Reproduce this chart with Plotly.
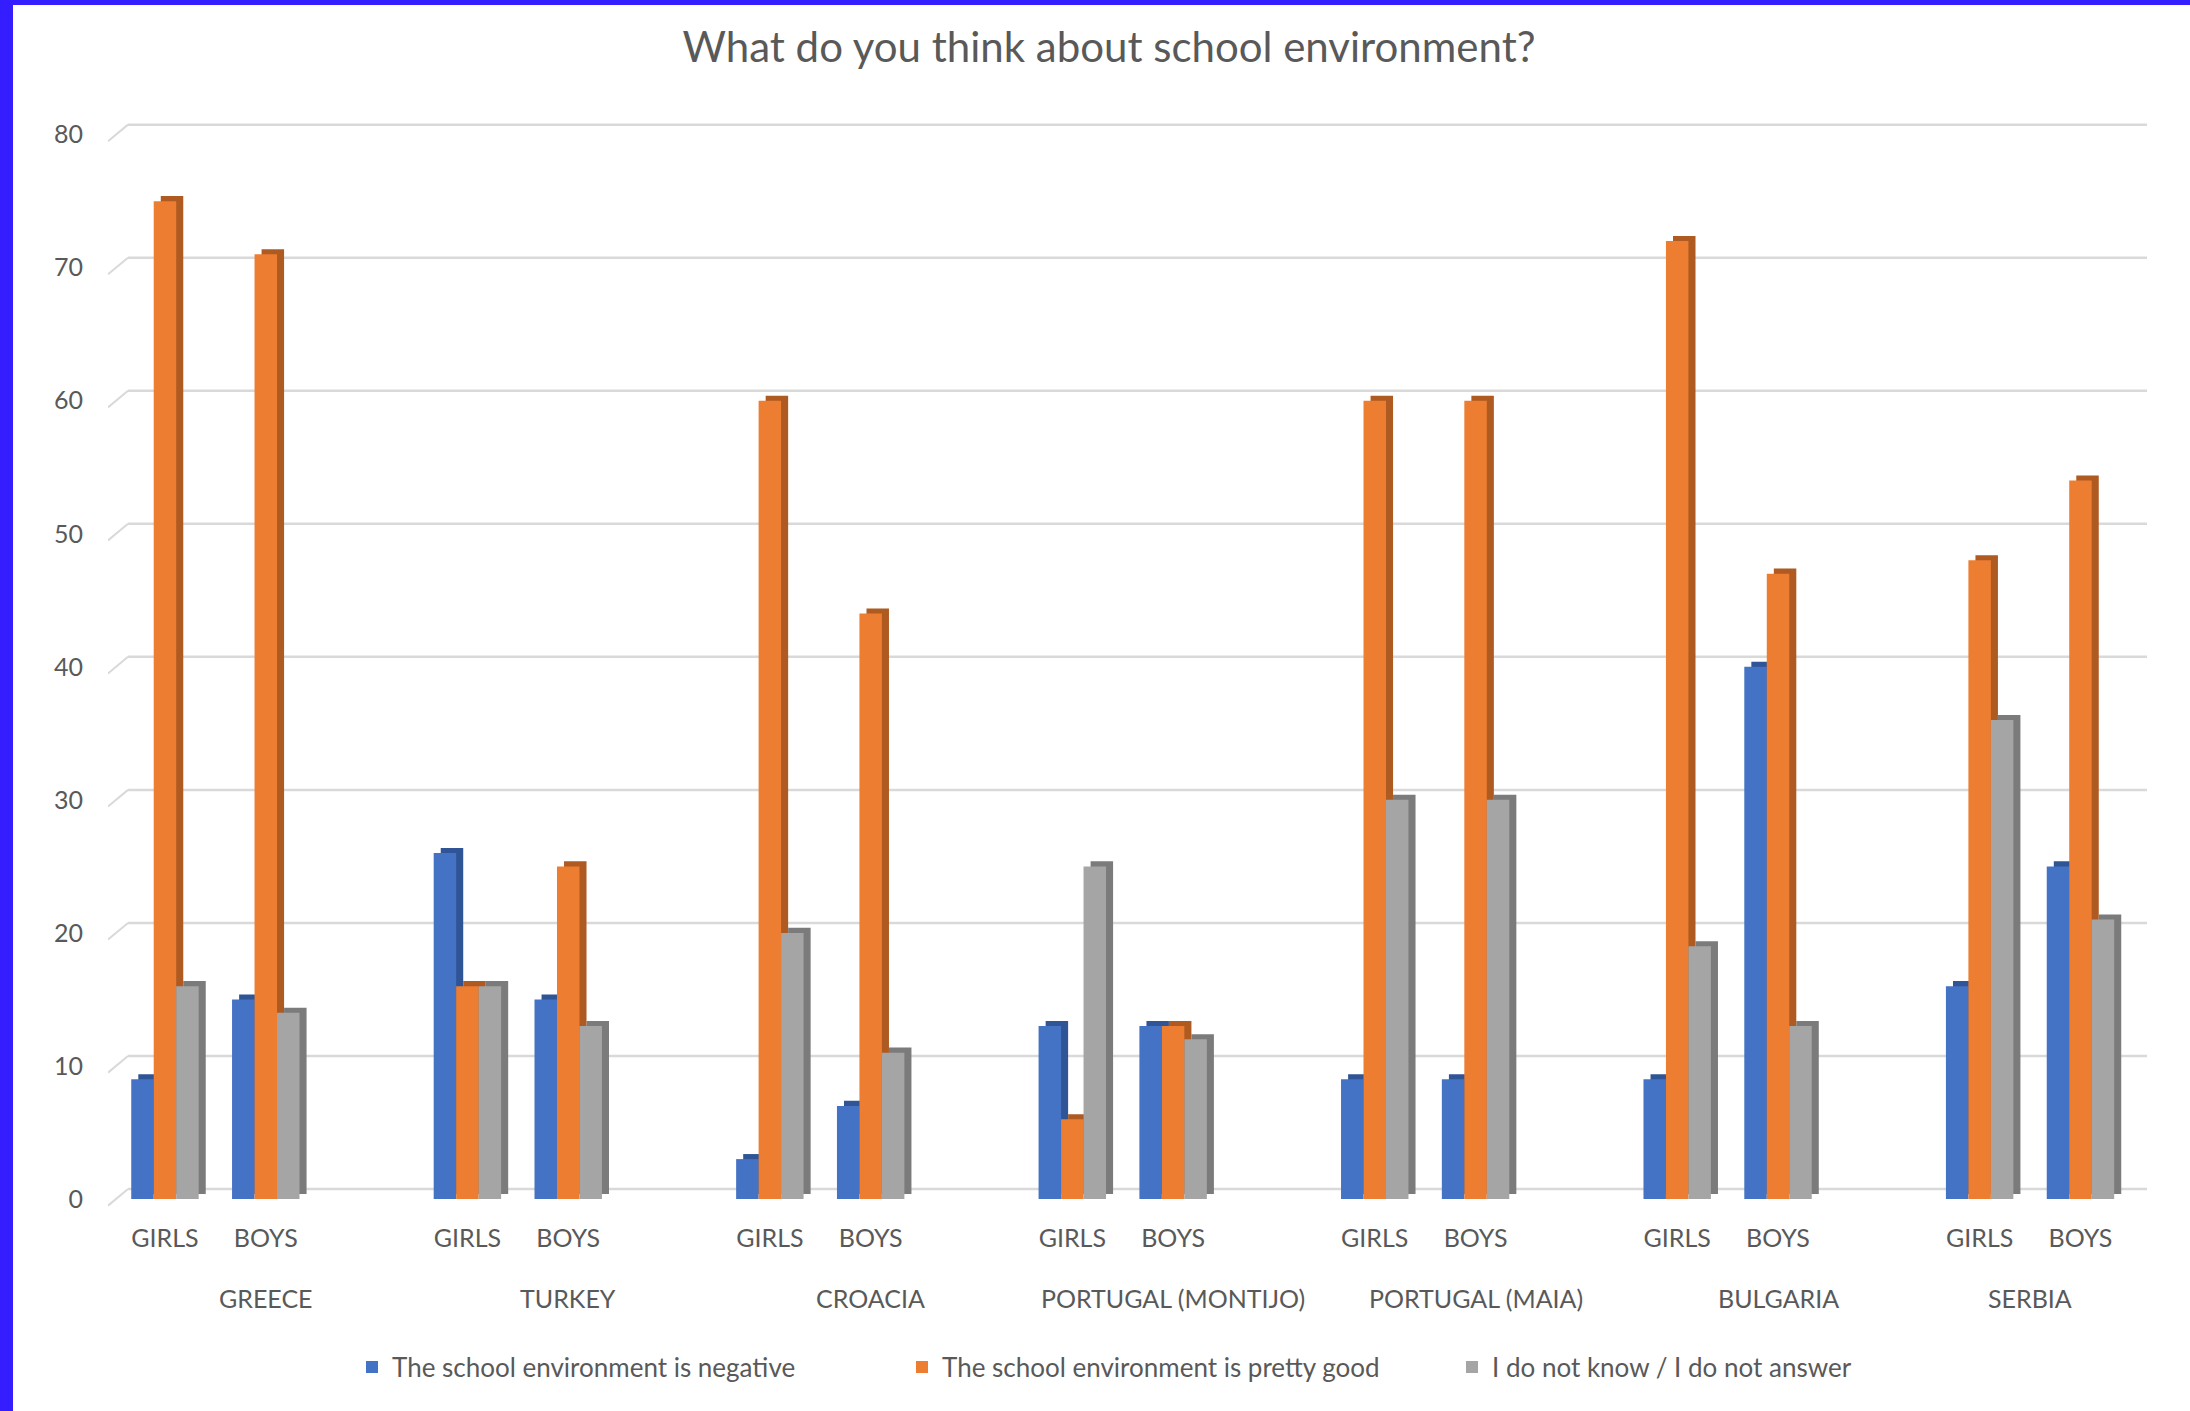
import plotly.graph_objects as go

# ---------------- data ----------------
countries = ["GREECE", "TURKEY", "CROACIA", "PORTUGAL (MONTIJO)",
             "PORTUGAL (MAIA)", "BULGARIA", "SERBIA"]
genders = ["GIRLS", "BOYS"]
series_names = ["The school environment is negative",
                "The school environment is pretty good",
                "I do not know / I do not answer"]

negative_girls = [9, 26, 3, 13, 9, 9, 16]
negative_boys = [15, 15, 7, 13, 9, 40, 25]
good_girls = [75, 16, 60, 6, 60, 72, 48]
good_boys = [71, 25, 44, 13, 60, 47, 54]
dontknow_girls = [16, 16, 20, 25, 30, 19, 36]
dontknow_boys = [14, 13, 11, 12, 30, 13, 21]

y_tick_values = [0, 10, 20, 30, 40, 50, 60, 70, 80]

# ---------------- styles ----------------
front_colors = ["#4472C4", "#ED7D31", "#A5A5A5"]
side_colors = ["#2F5597", "#AE5A21", "#7B7B7B"]
text_color = "#595959"
grid_color = "#D9D9D9"
font_family = "Lato"

W, H = 2190, 1411
ML, MR, MT, MB = 108, 43, 108, 204
plot_w = W - ML - MR
plot_h = H - MT - MB
x_range = [-0.565, 19.66]
y_range = [-0.6, 82]
px_per_x = plot_w / (x_range[1] - x_range[0])

bar_w = 0.223
depth_x = 0.07
depth_y = 0.38
grid_back = 0.75

# category positions: each country has slots (girls, boys, blank spacer except last)
x_pos, x_text, country_centers = [], [], []
for i, c in enumerate(countries):
    slots = [3 * i + g for g in range(len(genders))]
    for g, gname in enumerate(genders):
        x_pos.append(slots[g])
        x_text.append(gname)
    if i < len(countries) - 1:
        slots.append(3 * i + len(genders))
    country_centers.append(sum(slots) / len(slots))


def interleave(a, b):
    out = []
    for u, v in zip(a, b):
        out += [u, v]
    return out


series_values = [interleave(negative_girls, negative_boys),
                 interleave(good_girls, good_boys),
                 interleave(dontknow_girls, dontknow_boys)]

fig = go.Figure()
for k, (name, vals) in enumerate(zip(series_names, series_values)):
    off = -1.5 * bar_w + k * bar_w
    # darker "depth" face
    fig.add_trace(go.Bar(
        x=x_pos, y=vals, base=depth_y, offset=off + depth_x, width=bar_w,
        marker=dict(color=side_colors[k], line=dict(width=0)),
        showlegend=False, hoverinfo="skip"))
    # front face
    fig.add_trace(go.Bar(
        x=x_pos, y=vals, offset=off, width=bar_w, name=name,
        marker=dict(color=front_colors[k], line=dict(width=0))))

shapes = []
back_x0 = x_range[0] + 20 / px_per_x
for v in y_tick_values:
    shapes.append(dict(type="line", xref="x", yref="y", layer="below",
                       x0=back_x0, x1=x_range[1], y0=v + grid_back, y1=v + grid_back,
                       line=dict(color=grid_color, width=2.5)))
    shapes.append(dict(type="line", xref="x", yref="y", layer="below",
                       x0=x_range[0], x1=back_x0, y0=v - 0.5, y1=v + grid_back,
                       line=dict(color=grid_color, width=2)))


def px_to_paper_x(px):
    return (px - ML) / plot_w


def px_to_paper_y(py):
    return (H - MB - py) / plot_h


# blue frame on left & top of the picture
frame_color = "#341EFF"
shapes.append(dict(type="rect", xref="paper", yref="paper", layer="above",
                   x0=px_to_paper_x(0), x1=px_to_paper_x(13),
                   y0=px_to_paper_y(H), y1=px_to_paper_y(0),
                   line=dict(width=0), fillcolor=frame_color))
shapes.append(dict(type="rect", xref="paper", yref="paper", layer="above",
                   x0=px_to_paper_x(0), x1=px_to_paper_x(W),
                   y0=px_to_paper_y(5), y1=px_to_paper_y(0),
                   line=dict(width=0), fillcolor=frame_color))

annotations = []
for c, cx in zip(countries, country_centers):
    annotations.append(dict(x=cx, y=px_to_paper_y(1298), xref="x", yref="paper",
                            text=c, showarrow=False, xanchor="center", yanchor="middle",
                            font=dict(family=font_family, size=25, color=text_color)))

fig.update_layout(
    width=W, height=H,
    margin=dict(l=ML, r=MR, t=MT, b=MB, pad=0),
    paper_bgcolor="white", plot_bgcolor="white",
    barmode="overlay",
    title=dict(text="What do you think about school environment?",
               x=1109 / W, xref="container", xanchor="center",
               y=1 - 47 / H, yref="container", yanchor="middle",
               font=dict(family=font_family, size=42, color=text_color)),
    xaxis=dict(range=x_range, tickmode="array", tickvals=x_pos, ticktext=x_text,
               showgrid=False, zeroline=False, showline=False, ticks="",
               ticklabelstandoff=14,
               tickfont=dict(family=font_family, size=25, color=text_color)),
    yaxis=dict(range=y_range, tickmode="array", tickvals=y_tick_values,
               showgrid=False, zeroline=False, showline=False, ticks="",
               ticklabelstandoff=24,
               tickfont=dict(family=font_family, size=25, color=text_color)),
    legend=dict(orientation="h", x=px_to_paper_x(352), xanchor="left",
                y=px_to_paper_y(1367), yanchor="middle",
                entrywidth=505, entrywidthmode="pixels",
                font=dict(family=font_family, size=26, color=text_color),
                bgcolor="rgba(0,0,0,0)"),
    shapes=shapes, annotations=annotations,
    hovermode=False,
)

fig.write_html("out.html", config={"displayModeBar": False},
               post_script="document.body.style.margin='0';")
